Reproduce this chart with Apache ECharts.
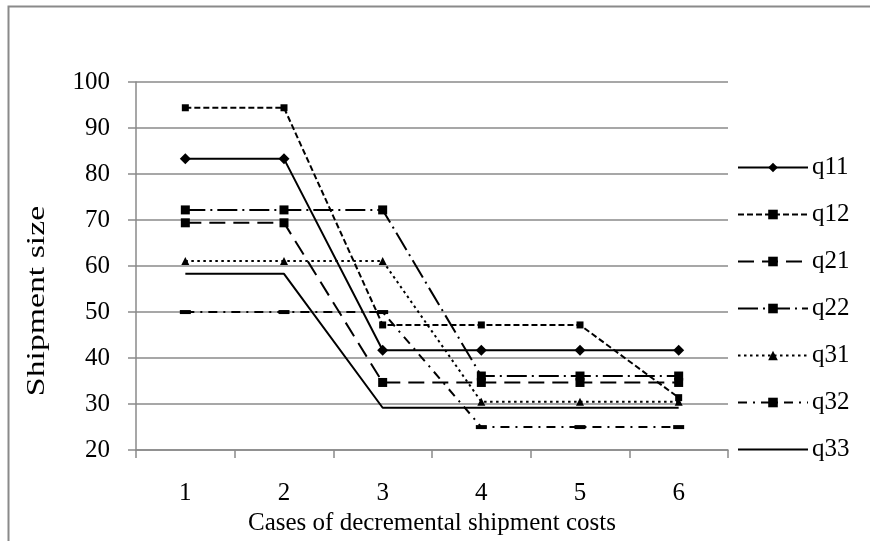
<!DOCTYPE html>
<html>
<head>
<meta charset="utf-8">
<script src="https://cdn.jsdelivr.net/npm/echarts@6/dist/echarts.min.js"></script>
<style>
  html, body { margin: 0; padding: 0; background: #fff; }
  #chart { width: 870px; height: 541px; }
</style>
</head>
<body>
<div id="chart"></div>
<script>
// categories (cases) and series values
var cases = ['1', '2', '3', '4', '5', '6'];
var q11 = [83.3, 83.3, 41.7, 41.7, 41.7, 41.7];
var q12 = [94.4, 94.4, 47.2, 47.2, 47.2, 31.4];
var q21 = [69.4, 69.4, 34.7, 34.7, 34.7, 34.7];
var q22 = [72.2, 72.2, 72.2, 36.1, 36.1, 36.1];
var q31 = [61.1, 61.1, 61.1, 30.5, 30.5, 30.5];
var q32 = [50.0, 50.0, 50.0, 25.0, 25.0, 25.0];
var q33 = [58.3, 58.3, 29.2, 29.2, 29.2, 29.2];
var names = ['q11', 'q12', 'q21', 'q22', 'q31', 'q32', 'q33'];

var serif = '"Liberation Serif", "Times New Roman", serif';
var gray = '#8a8a8a';

function line(name, data, dash, symbol, size){
    return {
        name: name,
        type: 'line',
        data: data,
        symbol: symbol,
        symbolSize: size,
        showSymbol: symbol != 'none',
        animation: false,
        itemStyle: {color: '#000'},
        lineStyle: {color: '#000', width: 2, type: dash},
        emphasis: {disabled: true}
    };
}

//图例: q33 has no marker
var legendData = names.map(function(n){
    if(n == 'q33') return {name: n, itemStyle: {opacity: 0}};
    return {name: n};
});

var myCharts = echarts.init(document.getElementById('chart'));

var option = {
    backgroundColor: '#fff',
    graphic: [
        {   // outer chart border, right/bottom edges fall outside the picture
            type: 'rect',
            shape: {x: 8.5, y: 6.5, width: 900, height: 600},
            style: {fill: 'none', stroke: gray, lineWidth: 2}
        },
        {
            type: 'text',
            x: 37, y: 301,
            rotation: Math.PI / 2,
            scaleX: 1.35,
            style: {
                text: 'Shipment size',
                font: '25px ' + serif,
                fill: '#000',
                align: 'center',
                verticalAlign: 'middle'
            }
        }
    ],
    grid: {left: 136, top: 82, width: 592, height: 369, containLabel: false},
    legend: {
        orient: 'vertical',
        left: 732,
        top: 150,
        itemWidth: 70,
        itemHeight: 12,
        itemGap: 22,
        data: legendData,
        textStyle: {fontFamily: serif, fontSize: 25, color: '#000', padding: [0, 0, 0, -1]}
    },
    xAxis: {
        type: 'category',
        data: cases,
        boundaryGap: true,
        name: 'Cases of decremental shipment costs',
        nameLocation: 'middle',
        nameGap: 59,
        nameTextStyle: {fontFamily: serif, fontSize: 25, color: '#000'},
        axisLine: {lineStyle: {color: gray, width: 1.5}},
        axisTick: {show: true, length: 8, lineStyle: {color: gray, width: 1.5}},
        axisLabel: {fontFamily: serif, fontSize: 25, color: '#000', margin: 31},
        splitLine: {show: false}
    },
    yAxis: {
        type: 'value',
        min: 20,
        max: 100,
        interval: 10,
        axisLine: {show: true, lineStyle: {color: gray, width: 1.5}},
        axisTick: {show: true, length: 8, lineStyle: {color: gray, width: 1.5}},
        axisLabel: {fontFamily: serif, fontSize: 25, color: '#000', margin: 26},
        splitLine: {show: true, lineStyle: {color: gray, width: 1.5}}
    },
    series: [
        line('q11', q11, 'solid', 'diamond', 11),
        line('q12', q12, [6, 3], 'rect', 7),
        line('q21', q21, [16, 8], 'rect', 9),
        line('q22', q22, [20, 5, 2, 5], 'rect', 9),
        line('q31', q31, [2.5, 3.5], 'triangle', 8),
        line('q32', q32, [9, 6, 2, 6], 'rect', [11, 4]),
        line('q33', q33, 'solid', 'none', 0)
    ]
};

myCharts.setOption(option);
</script>
</body>
</html>
